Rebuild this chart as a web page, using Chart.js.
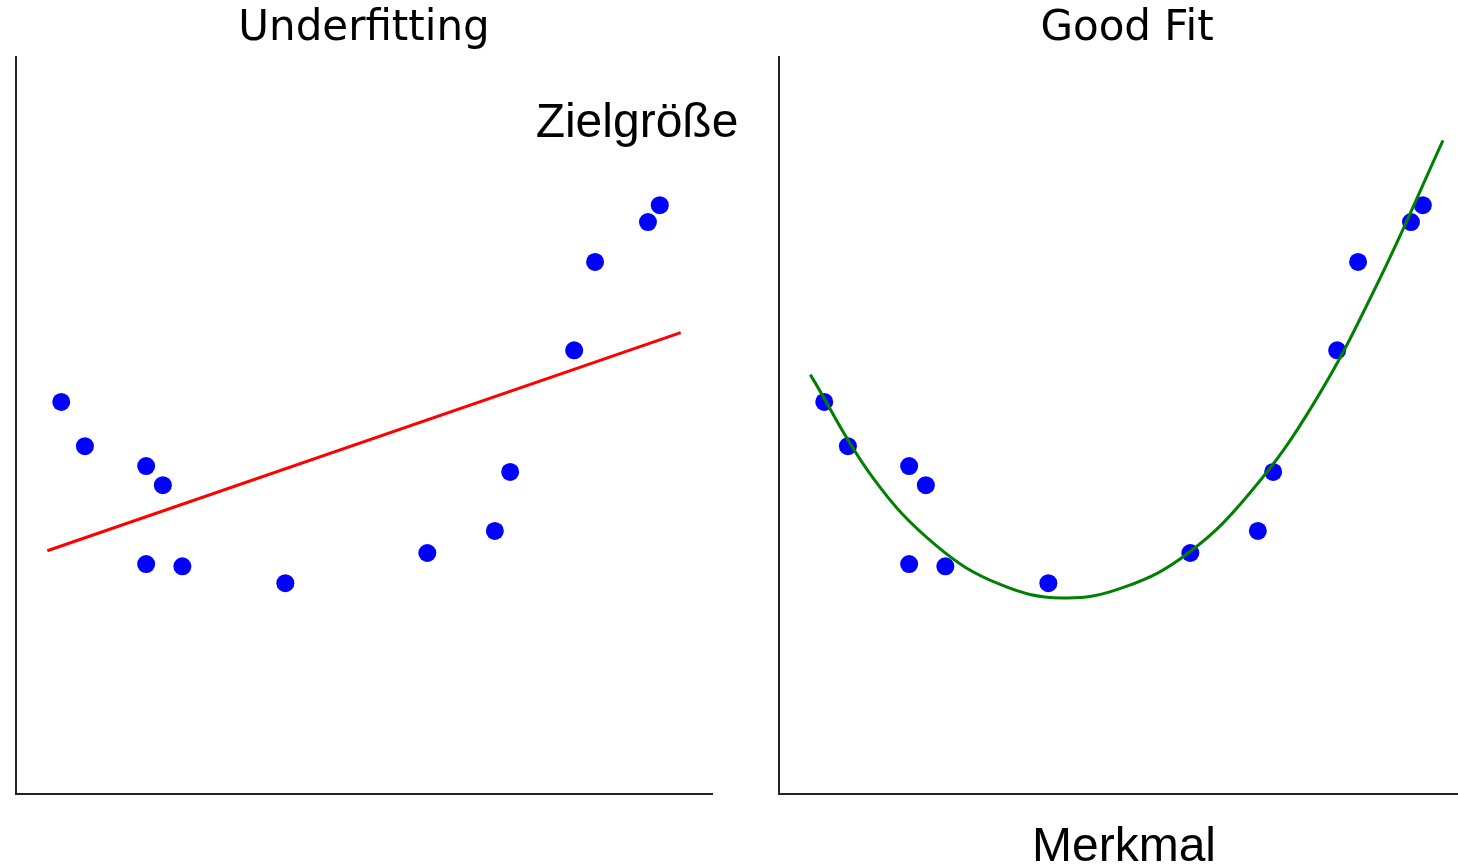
<!DOCTYPE html>
<html>
<head>
<meta charset="utf-8">
<script src="https://cdn.jsdelivr.net/npm/chart.js@4.4.1/dist/chart.umd.min.js"></script>
<style>
  html, body { margin: 0; padding: 0; background: #fff; overflow: hidden; width: 1458px; height: 867px; }
  canvas { position: absolute; top: 0; }
  #left { left: 0; }
  #right { left: 763px; }
</style>
</head>
<body>
<canvas id="left" width="760" height="867"></canvas>
<canvas id="right" width="760" height="867"></canvas>
<script>
// measured points (same sample in both panels)
const featureX = [0.65, 0.99, 1.87, 2.11, 1.87, 2.39, 3.87, 5.91, 6.88, 7.10, 8.02, 8.32, 9.08, 9.25]
const targetY  = [5.32, 4.72, 4.45, 4.19, 3.12, 3.09, 2.86, 3.27, 3.57, 4.37, 6.02, 7.22, 7.76, 7.99]

// straight line fit (left)
const lineX = [0.45, 9.55]
const lineY = [3.30, 6.26]

// curve fit (right)
const curveX = [0.45, 1.35, 2.26, 3.16, 4.07, 4.97, 5.88, 6.78, 7.69, 8.59, 9.54]
const curveY = [5.69, 4.29, 3.37, 2.85, 2.66, 2.81, 3.27, 4.10, 5.31, 6.91, 8.87]

const titles = ['Underfitting', 'Good Fit']
const yLabel = 'Zielgröße'
const xLabel = 'Merkmal'

function toPoints(xs, ys) {
    return xs.map((x, i) => ({ x: x, y: ys[i] }))
}

// free text placed relative to the chart area
function textPlugin(items) {
    return {
        id: 'freeText',
        afterDraw(chart) {
            const ctx = chart.ctx
            const area = chart.chartArea
            ctx.save()
            ctx.fillStyle = '#000'
            ctx.textBaseline = 'alphabetic'
            ctx.textAlign = 'center'
            items.forEach(item => {
                ctx.font = item.font
                ctx.fillText(item.text, item.x(area), item.y(area))
            })
            ctx.restore()
        }
    }
}

function axisOptions() {
    return {
        type: 'linear',
        min: 0,
        max: 10,
        grid: { display: false, drawTicks: false },
        ticks: { display: false },
        border: { display: true, color: '#222', width: 2 }
    }
}

function makeChart(id, title, fitData, fitColor, smooth, extra) {
    return new Chart(document.getElementById(id), {
        type: 'scatter',
        data: {
            datasets: [
                {
                    data: fitData,
                    showLine: true,
                    borderColor: fitColor,
                    borderWidth: 3,
                    pointRadius: 0,
                    tension: smooth ? 0.4 : 0
                },
                {
                    data: toPoints(featureX, targetY),
                    backgroundColor: '#0000ff',
                    borderWidth: 0,
                    pointRadius: 9,
                    pointHoverRadius: 9
                }
            ]
        },
        options: {
            responsive: false,
            animation: false,
            events: [],
            layout: { padding: { left: 16, right: 48, top: 0, bottom: 73 } },
            scales: { x: axisOptions(), y: axisOptions() },
            plugins: {
                legend: { display: false },
                tooltip: { enabled: false },
                title: {
                    display: true,
                    text: title,
                    fullSize: false,
                    color: '#000',
                    font: { family: 'DejaVu Sans', size: 42, weight: 'normal', lineHeight: 1.2 },
                    padding: { top: 4, bottom: 2.6 }
                }
            }
        },
        plugins: [textPlugin(extra)]
    })
}

makeChart('left', titles[0], toPoints(lineX, lineY), '#ff0000', false, [
    { text: yLabel, font: '48px "Liberation Sans"', x: a => a.right - 75, y: a => a.top + 80 }
])

makeChart('right', titles[1], toPoints(curveX, curveY), '#008000', true, [
    { text: xLabel, font: '48px "Liberation Sans"', x: a => (a.left + a.right) / 2 - 3, y: a => a.bottom + 67 }
])
</script>
</body>
</html>
